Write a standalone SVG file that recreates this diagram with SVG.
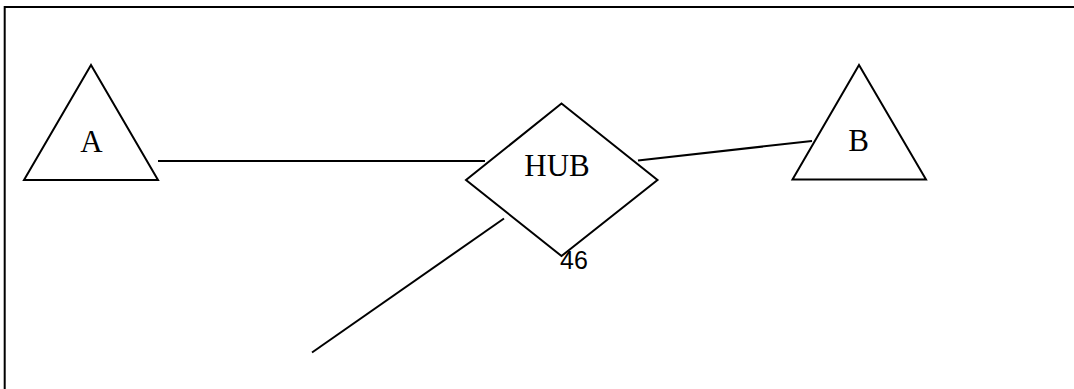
<svg xmlns="http://www.w3.org/2000/svg" width="1074" height="389" viewBox="0 0 1074 389">
<style>
.shape{fill:#fff;stroke:#000;stroke-width:2;stroke-linejoin:miter}
.conn{stroke:#000;stroke-width:2;fill:none}
.lbl{font-family:"Liberation Serif","Times New Roman",serif;font-size:31px;fill:#000;text-anchor:middle}
.num{font-family:"Liberation Sans",Arial,sans-serif;font-size:25px;fill:#000}
</style>
<rect x="0" y="0" width="1074" height="389" fill="#fff"/>
<rect x="4.7" y="7" width="1100" height="420" fill="none" stroke="#000" stroke-width="2"/>
<g id="connectors">
<line class="conn" x1="158" y1="161" x2="485" y2="161"/>
<line class="conn" x1="638" y1="160.5" x2="812" y2="141"/>
<line class="conn" x1="312" y1="352.5" x2="504" y2="218.5"/>
</g>
<g id="node-A">
<polygon class="shape" points="91,65 24,180 158,180"/>
<text class="lbl" x="91.5" y="151.5">A</text>
</g>
<g id="node-HUB">
<polygon class="shape" points="561.5,103.5 657.5,180 561.5,256 466,180"/>
<text class="lbl" x="557" y="176">HUB</text>
</g>
<g id="node-B">
<polygon class="shape" points="859,65 792.5,179.5 926,179.5"/>
<text class="lbl" x="858.5" y="150.5">B</text>
</g>
<text class="num" x="560" y="269">46</text>
</svg>
